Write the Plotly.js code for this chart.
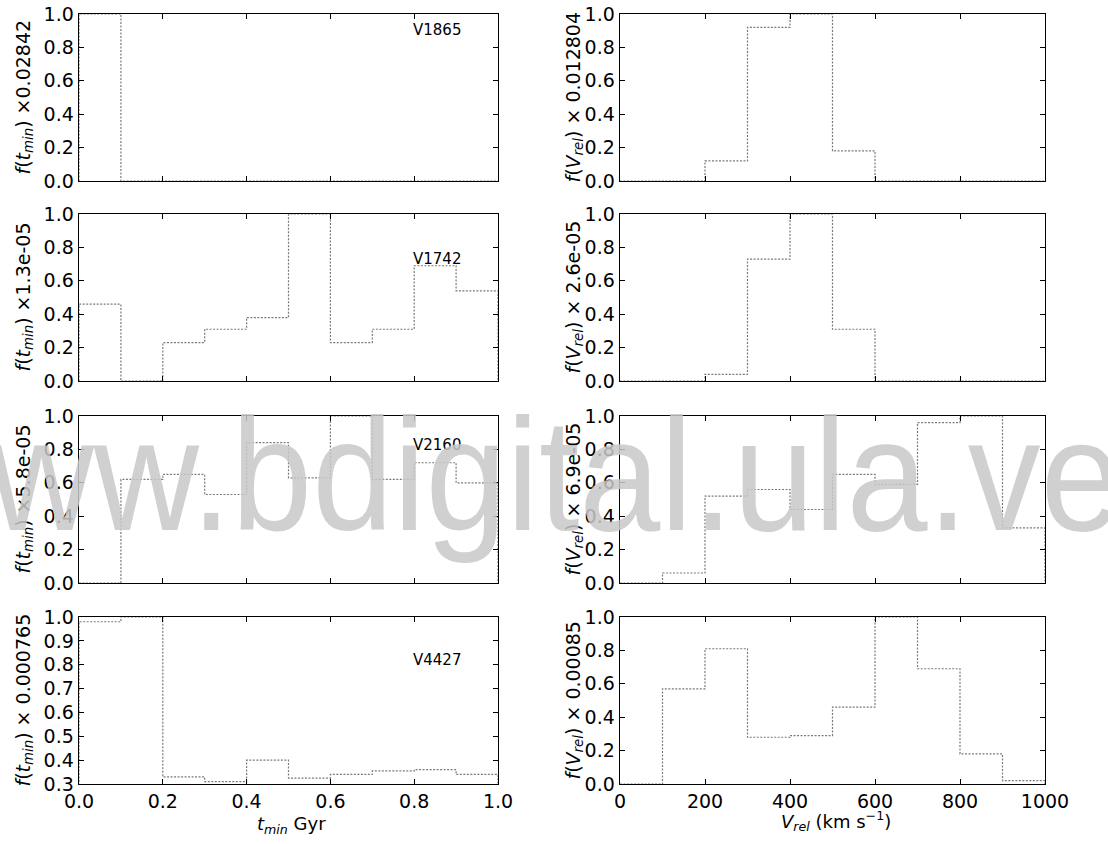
<!DOCTYPE html>
<html>
<head>
<meta charset="utf-8">
<script src="https://cdn.plot.ly/plotly-3.0.1.min.js"></script>
<style>html,body{margin:0;padding:0;background:#fff;}</style>
</head>
<body>
<div id="chart" style="width:1108px;height:844px;"></div>
<script>
// Bin edges
const tEdges = [0.0, 0.1, 0.2, 0.3, 0.4, 0.5, 0.6, 0.7, 0.8, 0.9, 1.0];
const vEdges = [0, 100, 200, 300, 400, 500, 600, 700, 800, 900, 1000];

// Object names
const stars = ["V1865", "V1742", "V2160", "V4427"];

// Normalised histograms of t_min (left column)
const tV1865 = [1.00, 0.00, 0.00, 0.00, 0.00, 0.00, 0.00, 0.00, 0.00, 0.00];
const tV1742 = [0.46, 0.00, 0.23, 0.31, 0.38, 1.00, 0.23, 0.31, 0.69, 0.54];
const tV2160 = [0.00, 0.62, 0.65, 0.53, 0.84, 0.63, 1.00, 0.62, 0.72, 0.60];
const tV4427 = [0.98, 1.00, 0.33, 0.31, 0.40, 0.325, 0.34, 0.355, 0.36, 0.34];

// Normalised histograms of V_rel (right column)
const vV1865 = [0.00, 0.00, 0.12, 0.92, 1.00, 0.18, 0.00, 0.00, 0.00, 0.00];
const vV1742 = [0.00, 0.00, 0.04, 0.73, 1.00, 0.31, 0.00, 0.00, 0.00, 0.00];
const vV2160 = [0.00, 0.06, 0.52, 0.56, 0.44, 0.65, 0.59, 0.96, 1.00, 0.33];
const vV4427 = [0.00, 0.57, 0.81, 0.28, 0.29, 0.46, 1.00, 0.69, 0.18, 0.02];

// Normalisation factors (axis labels)
const tScale = ["×0.02842", "×1.3e-05", "×5.8e-05", "× 0.000765"];
const vScale = ["× 0.012804", "× 2.6e-05", "× 6.9e-05", "× 0.00085"];

const watermark = "www.bdigital.ula.ve";

const tData = [tV1865, tV1742, tV2160, tV4427];
const vData = [vV1865, vV1742, vV2160, vV4427];

// ---- layout geometry (pixels) ----
const W = 1108, H = 844;
const colX = [[79, 498], [620, 1045]];
const rowY = [[14, 181], [214, 381], [416, 583], [617, 784]];

function stepXY(edges, vals, base) {
  const x = [edges[0]], y = [base];
  for (let i = 0; i < vals.length; i++) { x.push(edges[i]); y.push(vals[i]); }
  x.push(edges[edges.length - 1]); y.push(vals[vals.length - 1]);
  x.push(edges[edges.length - 1]); y.push(base);
  return {x, y};
}

const traces = [];
const layout = {
  width: W, height: H,
  margin: {l: 0, r: 0, t: 0, b: 0},
  paper_bgcolor: "white", plot_bgcolor: "white",
  showlegend: false,
  font: {family: "DejaVu Sans", size: 19, color: "black"},
  annotations: []
};

for (let r = 0; r < 4; r++) {
  for (let c = 0; c < 2; c++) {
    const k = r * 2 + c + 1;
    const xa = "xaxis" + (k === 1 ? "" : k), ya = "yaxis" + (k === 1 ? "" : k);
    const xr = "x" + (k === 1 ? "" : k), yr = "y" + (k === 1 ? "" : k);
    const edges = c === 0 ? tEdges : vEdges;
    const vals = c === 0 ? tData[r] : vData[r];
    const s = stepXY(edges, vals, 0);
    traces.push({type: "scatter", mode: "lines", x: s.x, y: s.y, xaxis: xr, yaxis: yr,
      line: {color: "#7a7a7a", width: 1.2, dash: "2px,1.5px", shape: "hv"}, hoverinfo: "skip"});
    const bottom = r === 3;
    const yRange = (c === 0 && r === 3) ? [0.3, 1.0] : [0, 1];
    const yD = (c === 0 && r === 3) ? 0.1 : 0.2;
    layout[xa] = {
      domain: [colX[c][0] / W, colX[c][1] / W],
      range: c === 0 ? [0, 1] : [0, 1000],
      tick0: 0, dtick: c === 0 ? 0.2 : 200,
      tickformat: c === 0 ? ".1f" : "d",
      ticks: "inside", ticklen: 5, tickwidth: 1, tickcolor: "black",
      showline: true, linecolor: "black", linewidth: 1.4, mirror: "ticks",
      showgrid: false, zeroline: false, showticklabels: bottom,
      tickfont: {size: 19, family: "DejaVu Sans"},
      anchor: yr, fixedrange: true
    };
    layout[ya] = {
      domain: [1 - rowY[r][1] / H, 1 - rowY[r][0] / H],
      range: yRange, tick0: 0, dtick: yD, tickformat: ".1f",
      ticks: "inside", ticklen: 5, tickwidth: 1, tickcolor: "black",
      showline: true, linecolor: "black", linewidth: 1.4, mirror: "ticks",
      showgrid: false, zeroline: false,
      tickfont: {size: 19, family: "DejaVu Sans"},
      anchor: xr, fixedrange: true
    };
    // y-axis title as rotated annotation
    const yc = (rowY[r][0] + rowY[r][1]) / 2;
    const txt = c === 0
      ? "<i>f</i>(<i>t</i><sub><i>min</i></sub>) " + tScale[r]
      : "<i>f</i>(<i>V</i><sub><i>rel</i></sub>) " + vScale[r];
    layout.annotations.push({
      xref: "paper", yref: "paper", x: (c === 0 ? 24 : 574) / W, y: 1 - yc / H,
      text: txt, textangle: -90, showarrow: false, xanchor: "center", yanchor: "middle",
      font: {size: 19, family: "DejaVu Sans", color: "black"}
    });
  }
  // object label in left panels
  const labY = [30, 259, 445, 660][r];
  layout.annotations.push({
    xref: "paper", yref: "paper", x: 437 / W, y: 1 - labY / H,
    text: stars[r], showarrow: false, xanchor: "center", yanchor: "middle",
    font: {size: 15, family: "DejaVu Sans", color: "black"}
  });
}

// x-axis titles
layout.annotations.push({
  xref: "paper", yref: "paper", x: 291 / W, y: 1 - 825 / H,
  text: "<i>t</i><sub><i>min</i></sub> Gyr", showarrow: false,
  xanchor: "center", yanchor: "middle", font: {size: 18, family: "DejaVu Sans", color: "black"}
});
layout.annotations.push({
  xref: "paper", yref: "paper", x: 836 / W, y: 1 - 821 / H,
  text: "<i>V</i><sub><i>rel</i></sub> (km s<sup>−1</sup>)", showarrow: false,
  xanchor: "center", yanchor: "middle", font: {size: 18, family: "DejaVu Sans", color: "black"}
});

// watermark
layout.annotations.push({
  xref: "paper", yref: "paper", x: 1124 / W, y: 1 - 474 / H,
  text: watermark, showarrow: false, xanchor: "right", yanchor: "middle",
  font: {size: 160, family: "Liberation Sans", color: "rgba(200,200,200,0.85)"}
});

Plotly.newPlot("chart", traces, layout, {staticPlot: true, displayModeBar: false}).then(function () {
  // the scanned watermark is slightly condensed horizontally
  document.querySelectorAll(".annotation-text").forEach(function (el) {
    if (el.textContent === watermark) {
      el.style.transformBox = "fill-box";
      el.style.transformOrigin = "100% 50%";
      el.style.transform = "scaleX(0.91)";
    }
  });
});
</script>
</body>
</html>
